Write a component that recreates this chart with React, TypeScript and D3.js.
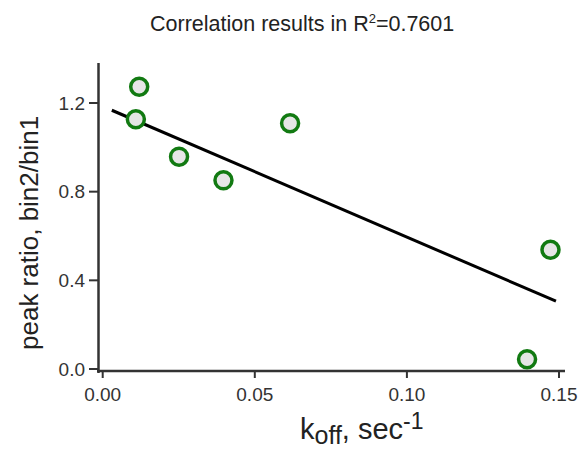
import React from "react";
import * as d3 from "d3";

const kOff = [0.012, 0.0109, 0.0251, 0.0397, 0.0616, 0.1472, 0.1395];
const peakRatio = [1.273, 1.127, 0.958, 0.851, 1.109, 0.538, 0.044];
const xTicks = [0, 0.05, 0.1, 0.15];
const yTicks = [0, 0.4, 0.8, 1.2];
const fitRange = [0.003, 0.149];
const fitSlope = -5.9;
const fitIntercept = 1.185;

const W = 582;
const H = 451;
const font = "'Liberation Sans', Arial, Helvetica, sans-serif";

export default function App() {
  const x = d3.scaleLinear().domain([0, 0.15]).range([102.7, 559]);
  const y = d3.scaleLinear().domain([0, 1.2]).range([369, 103]);
  const fmtX = d3.format(".2f");
  const fmtY = d3.format(".1f");
  const fitPts = fitRange.map((v) => [x(v), y(fitIntercept + fitSlope * v)] as [number, number]);
  const line = d3.line();
  const axisColor = "#333";
  return (
    <svg width={W} height={H} style={{ position: "absolute", left: 0, top: 0 }} fontFamily={font}>
      <rect width={W} height={H} fill="#fff" />
      <text x={150} y={31} fontSize={21.5} fill="#222">
        Correlation results in R
        <tspan fontSize={13} dy={-8}>2</tspan>
        <tspan dy={8}>=0.7601</tspan>
      </text>
      {/* y axis */}
      <line x1={98.5} x2={98.5} y1={63} y2={373} stroke={axisColor} strokeWidth={2.5} />
      {yTicks.map((t) => (
        <g key={"y" + t}>
          <line x1={89} x2={98} y1={y(t)} y2={y(t)} stroke={axisColor} strokeWidth={2} />
          <text x={85} y={y(t)} dy="0.35em" textAnchor="end" fontSize={19} fill="#333">
            {fmtY(t)}
          </text>
        </g>
      ))}
      {/* x axis */}
      <line x1={97} x2={565} y1={371} y2={371} stroke={axisColor} strokeWidth={2.5} />
      {xTicks.map((t) => (
        <g key={"x" + t}>
          <line x1={x(t)} x2={x(t)} y1={371} y2={378} stroke={axisColor} strokeWidth={2} />
          <text x={x(t)} y={401} textAnchor="middle" fontSize={19} fill="#333">
            {fmtX(t)}
          </text>
        </g>
      ))}
      <text transform="translate(38,350) rotate(-90)" fontSize={26} fill="#222">
        peak ratio, bin2/bin1
      </text>
      <text x={300} y={439} fontSize={29} fill="#222">
        k<tspan fontSize={25} dy={5}>off</tspan>
        <tspan dy={-5}>, sec</tspan>
        <tspan fontSize={23} dy={-10}>-1</tspan>
      </text>
      <path d={line(fitPts) || ""} stroke="#000" strokeWidth={3} fill="none" />
      {kOff.map((k, i) => (
        <circle key={i} cx={x(k)} cy={y(peakRatio[i])} r={8.5} fill="#e6e6e6" stroke="#127a12" strokeWidth={3.5} />
      ))}
    </svg>
  );
}
